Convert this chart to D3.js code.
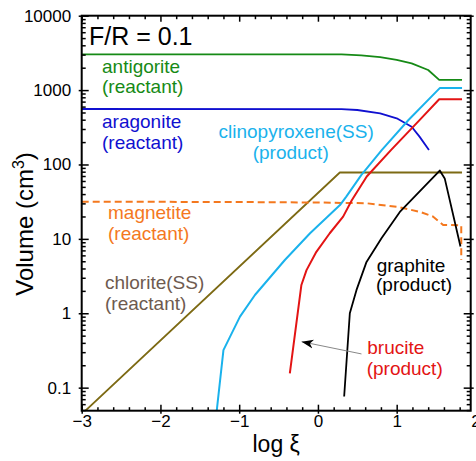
<!DOCTYPE html>
<html>
<head>
<meta charset="utf-8">
<script src="https://cdn.jsdelivr.net/npm/d3@7"></script>
<style>
  body { margin: 0; background: #fff; }
  svg { font-family: "Liberation Sans", Arial, sans-serif; }
</style>
</head>
<body>
<script>
// log xi vs volume (cm3), F/R = 0.1
const antigorite = [[-3, 3030], [0.3, 3020], [0.55, 2930], [0.79, 2770], [1.0, 2540], [1.19, 2290], [1.4, 1860], [1.54, 1370], [1.83, 1370]];
const aragonite = [[-3, 557], [0.3, 555], [0.5, 540], [0.79, 488], [1.0, 418], [1.19, 322], [1.29, 237], [1.41, 157]];
const clinopyroxene = [[-1.285, 0.049], [-1.2, 0.32], [-0.99, 0.9], [-0.8, 1.76], [-0.42, 5.2], [-0.1, 11.9], [0.28, 28.5], [0.36, 37], [0.55, 72], [0.81, 156], [1.15, 396], [1.55, 1070], [1.83, 1070]];
const brucite = [[-0.357, 0.156], [-0.21, 2.4], [-0.145, 3.8], [-0.02, 6.7], [0.15, 11.9], [0.32, 19.9], [0.43, 33], [0.62, 69], [0.93, 157], [1.29, 395], [1.54, 752], [1.83, 752]];
const graphite = [[0.333, 0.076], [0.405, 1.0], [0.49, 2.06], [0.617, 4.9], [0.807, 10.2], [1.04, 23], [1.547, 83], [1.61, 65], [1.81, 7.9]];
const chlorite = [[-3, 0.044], [0.278, 78], [1.83, 78]];
const magnetite = [[-3, 31.6], [-1, 31.3], [0, 30.8], [0.62, 30.1], [0.8, 28.6], [1.04, 26.6], [1.3, 23], [1.46, 20], [1.59, 15.4], [1.82, 15.2], [1.82, 5.2]];
// arrow from the brucite label to the curve
const brucitePointer = [[0.553, 0.284], [-0.208, 0.415]];

const xTicks = [-3, -2, -1, 0, 1, 2];
const yTicks = [0.1, 1, 10, 100, 1000, 10000];

const W = 476, H = 461;
const margin = {top: 15.7, right: 5.3, bottom: 50.3, left: 81.7},
    width = W - margin.left - margin.right,
    height = H - margin.top - margin.bottom;

const x = d3.scaleLinear().domain([-3, 1.94]).range([0, width]);
const y = d3.scaleLog().domain([0.049, 10000]).range([height, 0]);

const xMinor = d3.range(-3, 1.95, 0.2).map(v => +v.toFixed(1)).filter(v => !Number.isInteger(v));
const yMinor = [];
[0.01, 0.1, 1, 10, 100, 1000].forEach(d => {
    for (let k = 2; k <= 9; k++) {
        const v = d * k;
        if (v >= 0.049 && v <= 10000) yMinor.push(v);
    }
});

const svg = d3.select("body").append("svg")
    .attr("width", W)
    .attr("height", H);

svg.append("defs").append("clipPath").attr("id", "clip")
    .append("rect").attr("width", width).attr("height", height);

svg.append("defs").append("marker")
    .attr("id", "arrowhead")
    .attr("markerUnits", "userSpaceOnUse")
    .attr("viewBox", "0 -5 12 10")
    .attr("refX", 12).attr("refY", 0)
    .attr("markerWidth", 12).attr("markerHeight", 10)
    .attr("orient", "auto")
    .append("path")
    .attr("d", "M0,-4.5L12,0L0,4.5L3.5,0Z")
    .attr("fill", "#000");

const g = svg.append("g").attr("transform", `translate(${margin.left},${margin.top})`);

// curves
const line = d3.line().x(d => x(d[0])).y(d => y(d[1]));
const series = [
    {data: chlorite, color: "#7d6a14", w: 1.8},
    {data: magnetite, color: "#f4781e", w: 2, dash: "7,4"},
    {data: antigorite, color: "#168a16", w: 1.8},
    {data: aragonite, color: "#1010d0", w: 1.8},
    {data: clinopyroxene, color: "#1ab2ec", w: 2},
    {data: brucite, color: "#e31414", w: 2},
    {data: graphite, color: "#000", w: 1.8}
];
g.append("g").attr("clip-path", "url(#clip)")
    .selectAll("path")
    .data(series)
    .enter()
    .append("path")
    .attr("d", s => line(s.data))
    .attr("fill", "none")
    .attr("stroke", s => s.color)
    .attr("stroke-width", s => s.w)
    .attr("stroke-dasharray", s => s.dash || null)
    .attr("stroke-linejoin", "round");

g.append("path")
    .attr("d", line(brucitePointer))
    .attr("stroke", "#888")
    .attr("stroke-width", 1)
    .attr("fill", "none")
    .attr("marker-end", "url(#arrowhead)");

// axes
function styleAxis(sel) {
    sel.select(".domain").remove();
    sel.selectAll(".tick line").attr("stroke", "#000").attr("stroke-width", 1.5);
    sel.selectAll("text").attr("fill", "#000").style("font-size", "17px");
}

// bottom
g.append("g").attr("transform", `translate(0,${height})`)
    .call(d3.axisBottom(x).tickValues(xTicks).tickFormat(d3.format("d")).tickSizeInner(-6).tickSizeOuter(0).tickPadding(4))
    .call(styleAxis)
    .call(a => a.selectAll(".tick line").attr("y1", 3))
    .call(a => a.selectAll(".tick").filter(d => d > 1.94).select("line").remove());
g.append("g").attr("transform", `translate(0,${height})`)
    .call(d3.axisBottom(x).tickValues(xMinor).tickFormat("").tickSizeInner(-3.5).tickSizeOuter(0))
    .call(styleAxis);
// top
g.append("g")
    .call(d3.axisTop(x).tickValues(xTicks.filter(d => d < 1.94)).tickFormat("").tickSizeInner(-6).tickSizeOuter(0))
    .call(styleAxis);
g.append("g")
    .call(d3.axisTop(x).tickValues(xMinor).tickFormat("").tickSizeInner(-3.5).tickSizeOuter(0))
    .call(styleAxis);
// left
g.append("g")
    .call(d3.axisLeft(y).tickValues(yTicks).tickFormat(d3.format("~g")).tickSizeInner(-7).tickSizeOuter(0).tickPadding(10.5))
    .call(styleAxis)
    .call(a => a.selectAll(".tick line").attr("x1", -3));
g.append("g")
    .call(d3.axisLeft(y).tickValues(yMinor).tickFormat("").tickSizeInner(-4).tickSizeOuter(0))
    .call(styleAxis);
// right
g.append("g").attr("transform", `translate(${width},0)`)
    .call(d3.axisRight(y).tickValues(yTicks).tickFormat("").tickSizeInner(-7).tickSizeOuter(0))
    .call(styleAxis)
    .call(a => a.selectAll(".tick line").attr("x1", 3));
g.append("g").attr("transform", `translate(${width},0)`)
    .call(d3.axisRight(y).tickValues(yMinor).tickFormat("").tickSizeInner(-4).tickSizeOuter(0))
    .call(styleAxis);

// frame
g.append("rect")
    .attr("width", width).attr("height", height)
    .attr("fill", "none").attr("stroke", "#000").attr("stroke-width", 2);

// axis titles
svg.append("text")
    .attr("x", margin.left + width / 2)
    .attr("y", 451.5)
    .attr("text-anchor", "middle")
    .style("font-size", "23px")
    .text("log ξ");

const yt = svg.append("text")
    .attr("transform", "translate(33,224) rotate(-90)")
    .attr("text-anchor", "middle")
    .style("font-size", "24px");
yt.append("tspan").text("Volume (cm");
yt.append("tspan").attr("dy", -9).style("font-size", "16px").text("3");
yt.append("tspan").attr("dy", 9).text(")");

// labels
const labels = [
    {t: "F/R = 0.1", x: 89, y: 45, c: "#000", s: 25},
    {t: "antigorite", x: 102, y: 73, c: "#168a16"},
    {t: "(reactant)", x: 102, y: 93, c: "#168a16"},
    {t: "aragonite", x: 102, y: 128, c: "#1010d0"},
    {t: "(reactant)", x: 102, y: 148.5, c: "#1010d0"},
    {t: "clinopyroxene(SS)", x: 218.5, y: 137.5, c: "#1ab2ec"},
    {t: "(product)", x: 252.7, y: 159, c: "#1ab2ec"},
    {t: "magnetite", x: 108, y: 218.5, c: "#f4781e"},
    {t: "(reactant)", x: 108, y: 240, c: "#f4781e"},
    {t: "chlorite(SS)", x: 105, y: 288.5, c: "#6e5a4f"},
    {t: "(reactant)", x: 105, y: 309.5, c: "#6e5a4f"},
    {t: "graphite", x: 376.7, y: 272, c: "#000"},
    {t: "(product)", x: 376, y: 291, c: "#000"},
    {t: "brucite", x: 367.3, y: 354, c: "#e31414"},
    {t: "(product)", x: 366.7, y: 375, c: "#e31414"}
];
svg.append("g")
    .selectAll("text")
    .data(labels)
    .enter()
    .append("text")
    .attr("x", d => d.x)
    .attr("y", d => d.y)
    .attr("fill", d => d.c)
    .style("font-size", d => (d.s || 19) + "px")
    .text(d => d.t);
</script>
</body>
</html>
